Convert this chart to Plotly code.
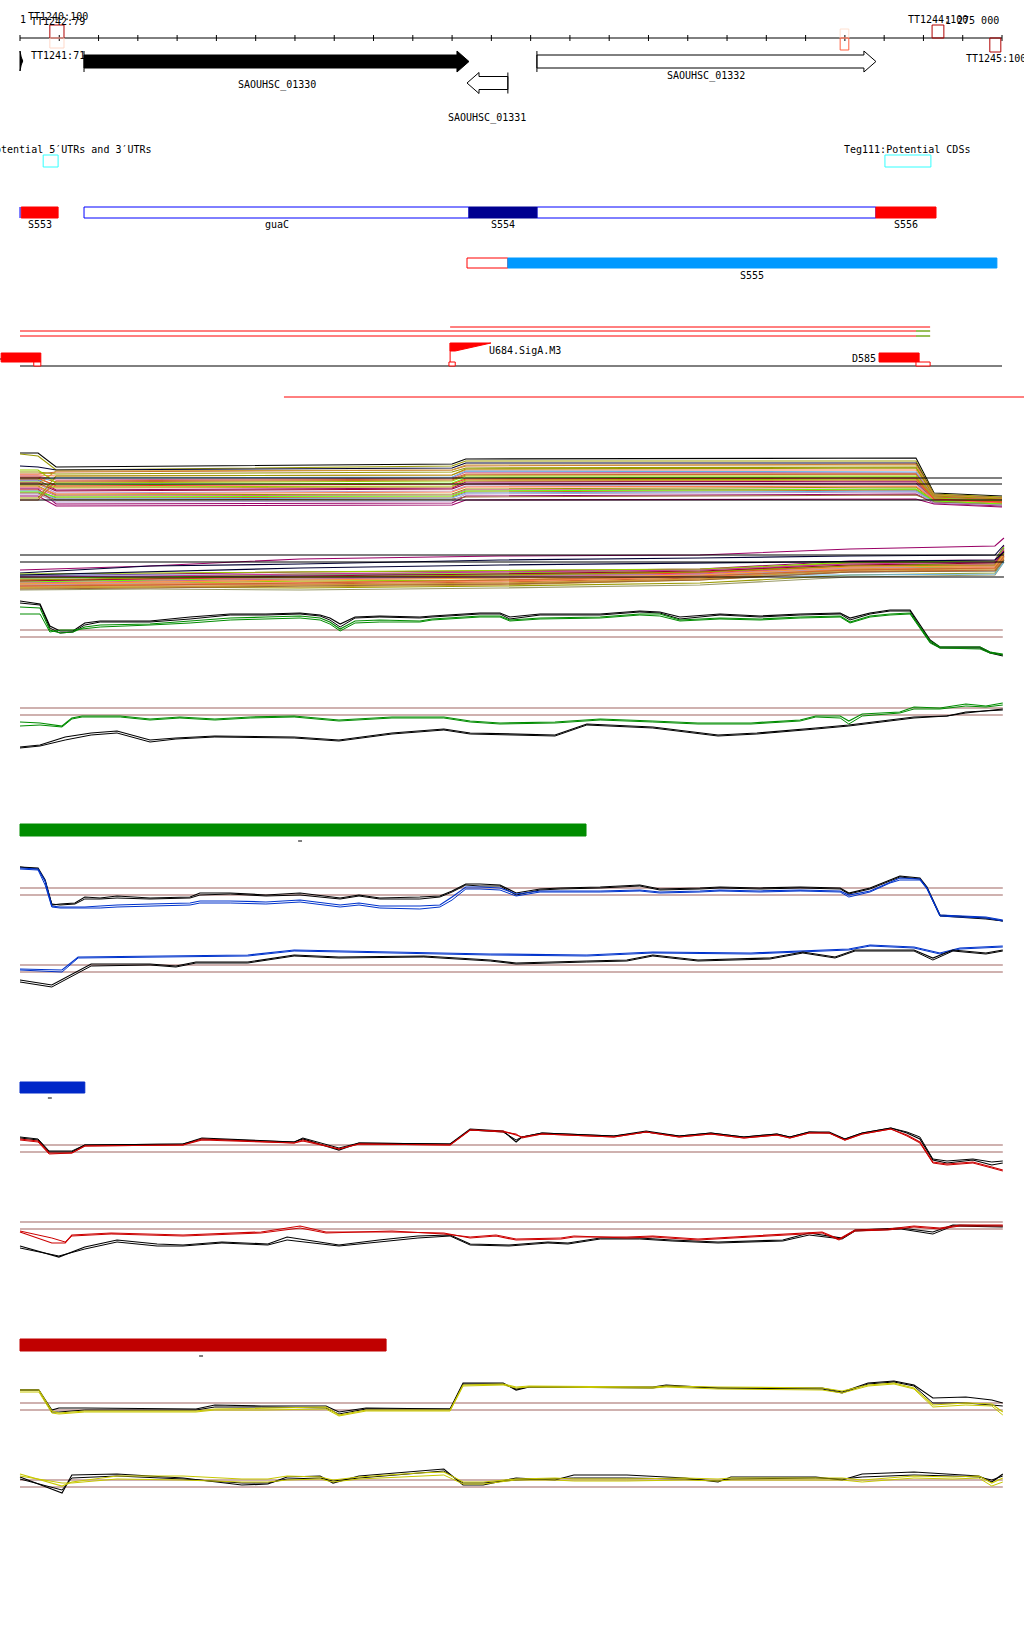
import plotly.graph_objects as go

W, H = 1024, 1640
OFF = 0                # page body margin is removed by the post script

# ======================= DATA =======================
WINDOW_START = 1272500          # genome coordinate of left ruler end
WINDOW_END = 1275000            # genome coordinate of right ruler end
RULER_STEP = 100
ruler_labels = ["1", "1 275 000"]

# terminator boxes (offsets from WINDOW_START)
term_box_start = [76, 76, 2088, 2088, 2322, 2469]
term_box_end = [112, 112, 2110, 2110, 2352, 2497]
term_labels = ["TT1240:100", "TT1242:79", "TT1241:71", "TT1244:100", "TT1245:100"]

# genes
gene_names = ["SAOUHSC_01330", "SAOUHSC_01331", "SAOUHSC_01332"]
gene_start = [163, 1138, 1316]
gene_end = [1143, 1242, 2179]
gene_strand = [1, -1, 1]

# potential UTR / CDS boxes
utr_box = [59, 97]
cds_box = [2202, 2319]

# transcript segments (track 1)
seg_names = ["S553", "guaC", "", "S554", "S556"]
seg_start = [3, 163, 1316, 1143, 2179]
seg_end = [97, 1143, 2179, 1316, 2332]
# track 2
s555_outline = [1138, 1242]
s555_fill = [1242, 2487]

# promoter / region lines (section 3)
region_line_start = [1095, 0, 0]
region_line_end = [2317, 2317, 2317]
green_tail_start = 2281
region_far_line = [672, 2556]
boxU = [-48, 53]
boxD = [2187, 2289]
boxD_small = [2281, 2317]
flag_pos = 1095
flag_len = 104

# colour bars (length in bp)
bar_lengths = [1441, 165, 932]
bar_marks = [713, 76, 461]

# ---- signal panels ----
A_pos = [0, 46, 92, 1100, 1135, 2281, 2327, 2500]
A_lines = [
    [57, 57, 43, 46, 51, 52, 17, 14], [56, 54, 40, 44, 49, 49, 16, 13],
    [44, 43, 40, 42, 47, 47, 15, 12], [36, 36, 38, 40, 44, 46, 15, 12],
    [38, 38, 36, 38, 42, 43, 14, 11], [35, 35, 34, 35, 40, 40, 13, 11],
    [34, 34, 30, 32, 38, 37, 13, 10], [33, 33, 28, 30, 35, 36, 12, 10],
    [31, 31, 25, 27, 32, 33, 12, 9], [30, 30, 20, 22, 28, 29, 11, 9],
    [29, 29, 32, 33, 39, 38, 12, 10], [28, 28, 23, 24, 30, 31, 11, 8],
    [27, 27, 19, 21, 26, 27, 10, 8], [26, 26, 17, 19, 24, 26, 10, 7],
    [25, 25, 22, 23, 29, 30, 11, 8], [24, 24, 15, 16, 21, 23, 9, 7],
    [23, 23, 16, 18, 23, 24, 10, 7], [22, 22, 14, 15, 20, 21, 9, 6],
    [21, 21, 6, 7, 14, 16, 7, 4], [20, 20, 12, 13, 18, 20, 8, 6],
    [19, 19, 11, 12, 17, 19, 8, 5], [18, 18, 13, 14, 19, 21, 9, 6],
    [17, 17, 10, 11, 13, 15, 8, 5], [16, 16, 8, 9, 16, 18, 7, 5],
    [14, 14, 4, 5, 10, 11, 6, 3], [12, 12, 34, 35, 41, 42, 14, 11],
    [10, 10, 29, 31, 36, 36, 13, 10], [40, 40, 27, 29, 34, 34, 12, 9],
    [32, 32, 24, 26, 31, 32, 11, 8], [26, 26, 39, 40, 45, 45, 15, 12],
]
A_const = [32, 26, 10]

B_pos = [0, 331, 713, 1222, 1731, 2113, 2482, 2505]
B_lines = [
    [25, 29, 36, 39, 40, 46, 49, 57], [22, 29, 31, 35, 37, 39, 40, 50],
    [7, 8, 7, 9, 12, 20, 22, 35], [10, 11, 11, 13, 17, 25, 27, 39],
    [12, 13, 13, 15, 19, 27, 28, 40], [14, 15, 16, 17, 21, 29, 30, 43],
    [18, 18, 19, 20, 21, 23, 24, 35], [13, 15, 17, 19, 23, 30, 31, 45],
    [11, 12, 14, 15, 18, 26, 29, 41], [17, 18, 20, 21, 23, 32, 33, 47],
    [16, 16, 17, 18, 20, 27, 29, 39], [8, 9, 8, 10, 15, 24, 25, 37],
    [19, 21, 23, 24, 26, 34, 35, 49], [9, 10, 10, 11, 16, 23, 25, 36],
    [5, 6, 5, 7, 10, 18, 20, 33], [15, 16, 18, 19, 22, 29, 30, 44],
    [20, 20, 20, 20, 20, 20, 21, 33], [6, 7, 9, 11, 15, 23, 24, 35],
    [12, 14, 16, 18, 21, 28, 31, 42], [9, 11, 12, 14, 18, 26, 27, 38],
    [17, 18, 21, 22, 25, 33, 34, 48], [21, 22, 23, 24, 26, 32, 33, 45],
    [10, 12, 15, 17, 20, 28, 29, 40], [14, 16, 19, 21, 24, 30, 32, 44],
    [7, 8, 10, 12, 16, 25, 26, 38], [15, 17, 18, 20, 23, 29, 30, 42],
    [11, 13, 15, 17, 20, 28, 29, 41], [18, 19, 21, 23, 25, 31, 33, 46],
    [20, 23, 27, 30, 32, 34, 35, 43], [9, 10, 12, 15, 19, 25, 27, 39],
]
B_const = [40, 33, 18]

# Panel C (green 1)
C_pos = [0, 51, 76, 102, 135, 165, 204, 331, 433, 535, 626, 713, 764, 789, 815, 853, 916, 1018,
         1049, 1120, 1171, 1222, 1247, 1324, 1477, 1578, 1629, 1680, 1782, 1884, 1986, 2088, 2113,
         2164, 2215, 2266, 2291, 2317, 2342, 2444, 2469, 2502]
C_black1 = [59, 56, 34, 29, 29, 37, 39, 39, 43, 46, 46, 47, 45, 42, 36, 43, 44, 43, 44, 46, 47, 47,
            43, 46, 46, 49, 48, 43, 46, 44, 46, 47, 42, 47, 50, 50, 35, 20, 13, 13, 8, 5]
C_black2 = [57, 55, 32, 27, 28, 35, 38, 38, 41, 45, 45, 46, 44, 40, 33, 42, 43, 42, 43, 45, 46, 46,
            41, 45, 45, 48, 47, 41, 45, 43, 45, 46, 40, 46, 49, 49, 33, 18, 12, 12, 7, 4]
C_green1 = [53, 52, 30, 27, 28, 33, 35, 36, 39, 42, 43, 44, 42, 38, 31, 39, 40, 39, 41, 43, 44, 44,
            40, 42, 43, 46, 46, 40, 42, 41, 43, 44, 38, 44, 46, 47, 33, 19, 13, 13, 8, 6]
C_green2 = [46, 46, 28, 30, 30, 31, 33, 35, 37, 40, 41, 42, 40, 36, 29, 37, 38, 38, 40, 42, 43, 43,
            39, 41, 42, 45, 44, 39, 41, 40, 42, 43, 37, 43, 45, 46, 32, 17, 12, 11, 7, 5]
C_thr = [30, 23]

# Panel D (green 2)
D_gpos = [0, 51, 107, 132, 158, 255, 331, 407, 496, 586, 698, 764, 812, 947, 1079, 1146, 1222,
          1362, 1477, 1611, 1726, 1861, 1986, 2026, 2088, 2110, 2144, 2240, 2276, 2342, 2408, 2459, 2502]
D_green1 = [38, 37, 34, 42, 44, 44, 41, 43, 41, 43, 44, 42, 40, 43, 43, 39, 37, 38, 41, 39, 37, 37,
            40, 44, 44, 39, 46, 48, 53, 52, 56, 54, 57]
D_green2 = [34, 35, 33, 41, 43, 43, 40, 42, 40, 42, 43, 41, 39, 42, 42, 38, 36, 37, 40, 38, 36, 36,
            39, 43, 42, 36, 44, 47, 51, 51, 54, 53, 55]
D_kpos = [0, 51, 115, 181, 247, 331, 397, 496, 698, 812, 947, 1079, 1146, 1362, 1443, 1611, 1777,
          1876, 2026, 2110, 2276, 2360, 2408, 2502]
D_black1 = [13, 15, 23, 27, 29, 20, 22, 24, 23, 20, 27, 31, 27, 25, 36, 33, 25, 27, 32, 35, 43, 44, 48, 50]
D_black2 = [12, 14, 20, 25, 27, 18, 21, 23, 22, 19, 26, 30, 26, 24, 35, 32, 24, 26, 31, 34, 42, 44, 47, 51]
D_thr = [52, 45]

# Panel E (blue 1)
E_pos = [0, 46, 64, 81, 102, 140, 165, 204, 247, 331, 433, 458, 535, 626, 713, 815, 863, 916, 1018,
         1069, 1100, 1135, 1171, 1222, 1263, 1324, 1375, 1477, 1578, 1629, 1731, 1782, 1884, 1986,
         2088, 2110, 2164, 2215, 2240, 2291, 2309, 2342, 2393, 2459, 2502]
E_black1 = [58, 57, 45, 20, 21, 22, 28, 27, 29, 27, 28, 32, 32, 30, 32, 27, 30, 27, 28, 29, 34, 41,
            41, 40, 32, 36, 37, 38, 40, 36, 37, 38, 37, 38, 37, 32, 37, 45, 49, 47, 38, 10, 9, 7, 4]
E_black2 = [58, 56, 44, 21, 20, 21, 26, 26, 27, 26, 27, 30, 31, 29, 30, 26, 29, 26, 26, 28, 33, 40,
            39, 39, 30, 35, 36, 37, 39, 35, 36, 37, 36, 37, 36, 31, 36, 44, 48, 46, 37, 9, 8, 6, 4]
E_blue1 = [57, 56, 44, 19, 18, 18, 18, 19, 20, 21, 22, 24, 24, 23, 25, 20, 22, 19, 19, 20, 28, 38,
           38, 37, 31, 34, 34, 34, 35, 33, 34, 35, 34, 35, 34, 30, 34, 43, 47, 46, 37, 10, 9, 8, 5]
E_blue2 = [56, 55, 40, 18, 17, 17, 17, 17, 18, 19, 20, 22, 22, 21, 23, 18, 20, 17, 16, 18, 25, 36,
           36, 35, 29, 33, 33, 33, 34, 32, 33, 34, 33, 34, 33, 28, 33, 42, 45, 45, 36, 9, 8, 7, 4]
E_thr = [37, 30]

# Panel F (blue 2)
F_kpos = [0, 81, 181, 331, 397, 448, 580, 698, 812, 1028, 1197, 1263, 1443, 1545, 1611, 1726, 1909,
          1993, 2075, 2126, 2276, 2324, 2375, 2459, 2502]
F_black1 = [10, 5, 26, 26, 24, 28, 28, 35, 33, 34, 30, 27, 29, 30, 35, 30, 32, 38, 33, 40, 40, 32, 40, 37, 40]
F_black2 = [8, 3, 24, 25, 23, 27, 27, 34, 32, 33, 29, 26, 28, 29, 34, 29, 31, 37, 32, 39, 39, 30, 39, 36, 39]
F_bpos = [0, 107, 148, 331, 580, 698, 947, 1197, 1443, 1611, 1861, 2110, 2164, 2276, 2342, 2393, 2502]
F_blue1 = [21, 20, 33, 34, 35, 40, 38, 36, 35, 38, 37, 41, 45, 43, 37, 42, 44]
F_blue2 = [20, 18, 32, 33, 34, 39, 37, 35, 34, 37, 36, 40, 44, 42, 36, 41, 43]
F_thr = [25, 18]

# Panel G (red 1)
G_pos = [0, 46, 74, 132, 165, 415, 463, 698, 720, 812, 863, 1095, 1146, 1230, 1263, 1278, 1329,
         1443, 1512, 1594, 1678, 1759, 1843, 1927, 1960, 2009, 2060, 2100, 2144, 2217, 2258, 2291,
         2324, 2360, 2426, 2474, 2502]
G_black1 = [37, 35, 23, 23, 30, 31, 37, 33, 36, 25, 32, 31, 46, 44, 33, 38, 42, 40, 39, 44, 39, 42,
            38, 41, 38, 43, 43, 36, 42, 47, 42, 36, 15, 12, 15, 10, 12]
G_black2 = [38, 36, 24, 24, 30, 31, 36, 33, 37, 27, 32, 31, 45, 43, 35, 38, 42, 40, 39, 43, 39, 42,
            38, 41, 38, 43, 42, 36, 42, 47, 43, 38, 16, 14, 16, 13, 14]
G_red1 = [36, 34, 22, 22, 29, 30, 35, 32, 34, 26, 31, 30, 45, 44, 40, 38, 41, 39, 38, 43, 38, 41,
          37, 40, 37, 42, 42, 35, 41, 46, 40, 33, 13, 11, 13, 8, 5]
G_red2 = [35, 33, 21, 22, 29, 30, 36, 32, 35, 26, 31, 30, 45, 43, 41, 37, 41, 39, 38, 43, 38, 41,
          37, 40, 37, 42, 42, 35, 41, 46, 39, 32, 12, 10, 12, 7, 4]
G_thr = [30, 23]

# Panel H (red 2)
H_rpos = [0, 81, 115, 132, 232, 415, 614, 713, 779, 947, 1079, 1146, 1212, 1263, 1377, 1410, 1545,
          1611, 1726, 1861, 1976, 2042, 2085, 2126, 2210, 2276, 2342, 2393, 2502]
H_red1 = [30, 19, 19, 27, 29, 27, 30, 36, 30, 30, 29, 24, 26, 22, 23, 25, 25, 26, 23, 26, 29, 30,
          23, 32, 33, 36, 34, 37, 37]
H_red2 = [31, 24, 20, 26, 28, 26, 29, 34, 29, 31, 28, 25, 27, 23, 24, 26, 24, 25, 22, 25, 28, 29,
          22, 31, 32, 35, 33, 36, 36]
H_kpos = [0, 99, 165, 247, 349, 415, 514, 631, 680, 812, 914, 1013, 1095, 1146, 1245, 1344, 1395,
          1477, 1578, 1660, 1777, 1942, 2009, 2093, 2126, 2243, 2324, 2375, 2502]
H_black1 = [16, 5, 15, 22, 18, 17, 20, 18, 25, 17, 22, 26, 27, 18, 17, 20, 19, 24, 24, 22, 20, 22,
            29, 24, 32, 34, 30, 37, 36]
H_black2 = [14, 6, 13, 20, 16, 16, 19, 17, 22, 16, 20, 24, 26, 17, 16, 19, 18, 23, 23, 21, 19, 21,
            27, 23, 31, 33, 28, 36, 35]
H_thr = [40, 33]

# Panel I (yellow 1)
I_pos = [0, 48, 81, 99, 165, 448, 496, 614, 779, 812, 881, 1095, 1128, 1230, 1263, 1296, 1611,
         1645, 1777, 2042, 2093, 2159, 2225, 2276, 2324, 2408, 2474, 2502]
I_black1 = [30, 30, 10, 12, 12, 11, 15, 14, 14, 8, 12, 11, 37, 37, 30, 33, 33, 35, 32, 32, 28, 37,
            39, 35, 22, 23, 20, 17]
I_black2 = [30, 30, 8, 8, 10, 10, 13, 13, 12, 6, 11, 11, 36, 36, 31, 33, 32, 34, 32, 31, 27, 36,
            38, 34, 17, 17, 15, 14]
I_yellow1 = [30, 30, 9, 7, 9, 9, 11, 12, 13, 5, 10, 10, 35, 36, 33, 34, 33, 34, 33, 32, 29, 35,
             37, 32, 15, 17, 16, 8]
I_yellow2 = [28, 28, 7, 6, 8, 8, 10, 10, 11, 4, 9, 9, 34, 35, 32, 33, 32, 33, 31, 30, 27, 34,
             36, 31, 13, 15, 14, 5]
I_thr = [17, 10]

# Panel J (yellow 2)
J_pos = [0, 107, 132, 247, 415, 565, 631, 680, 764, 797, 863, 1013, 1079, 1128, 1179, 1263, 1362,
         1410, 1545, 1693, 1777, 1810, 2026, 2093, 2144, 2276, 2375, 2441, 2474, 2502]
J_black1 = [23, 7, 25, 26, 22, 15, 16, 23, 24, 17, 24, 29, 31, 15, 15, 22, 20, 25, 25, 22, 18, 23,
            23, 20, 26, 28, 26, 24, 18, 26]
J_black2 = [21, 10, 22, 24, 21, 17, 17, 21, 22, 19, 22, 27, 29, 17, 17, 20, 21, 22, 22, 21, 19, 21,
            22, 21, 23, 25, 24, 23, 20, 24]
J_yellow1 = [26, 14, 18, 24, 24, 21, 21, 24, 23, 20, 23, 27, 28, 18, 18, 21, 22, 21, 21, 22, 21, 22,
             22, 22, 20, 24, 23, 24, 17, 22]
J_yellow2 = [24, 17, 17, 21, 20, 18, 18, 20, 21, 18, 21, 24, 25, 16, 16, 20, 20, 19, 19, 20, 19, 20,
             20, 20, 18, 22, 21, 22, 14, 18]
J_thr = [20, 13]

# ======================= LAYOUT / STYLE =======================
PX0, PX1 = 20, 1002
BPPX = (WINDOW_END - WINDOW_START) / (PX1 - PX0)
X_LEFT = WINDOW_START - (PX0 - OFF) * BPPX
X_RIGHT = X_LEFT + W * BPPX
FONT = "DejaVu Sans Mono"


def gx(off):
    return WINDOW_START + off


fig = go.Figure()
shapes = []
annos = []


def rect(x0, x1, y0, y1, line="black", fill="rgba(0,0,0,0)", lw=1):
    shapes.append(dict(type="rect", xref="x", yref="y", x0=gx(x0), x1=gx(x1), y0=y0, y1=y1,
                       line=dict(color=line, width=lw), fillcolor=fill, layer="above"))


def hline(x0, x1, y, color="black", lw=1):
    shapes.append(dict(type="line", xref="x", yref="y", x0=gx(x0), x1=gx(x1), y0=y, y1=y,
                       line=dict(color=color, width=lw)))


def vline(x, y0, y1, color="black", lw=1):
    shapes.append(dict(type="line", xref="x", yref="y", x0=gx(x), x1=gx(x), y0=y0, y1=y1,
                       line=dict(color=color, width=lw)))


def text(s, off, y, anchor="left", size=10):
    annos.append(dict(text=s, x=gx(off), y=y, xref="x", yref="y", xanchor=anchor, yanchor="middle",
                      showarrow=False, font=dict(family=FONT, size=size, color="black"), borderpad=0))


# ---- ruler ----
hline(0, WINDOW_END - WINDOW_START, 38)
for k in range(0, (WINDOW_END - WINDOW_START) // RULER_STEP + 1):
    vline(k * RULER_STEP, 35, 41)
term_styles = [(25, 38, "#B00000"), (38, 48, "#FFD8C8"), (29, 38, "#FFE0D0"), (38, 50, "#FF6040"),
               (25, 38, "#B00000"), (38, 52, "#B00000")]
for s0, s1, st in zip(term_box_start, term_box_end, term_styles):
    rect(s0, s1, st[0], st[1], line=st[2])
text(ruler_labels[0], -2, 19)
text(term_labels[0], 18, 16)
text(term_labels[1], 25, 21)
text(term_labels[2], 25, 55)
text(term_labels[3], 2258, 19)
text(ruler_labels[1], 2495, 20, anchor="right")
text(term_labels[4], 2406, 58)

# ---- genes ----
gene_y = [61.5, 83, 61.5]
gene_label_y = [85, 118, 76]
gene_fill = ["black", "white", "white"]
for name, s, e, st, yc, ly, fc in zip(gene_names, gene_start, gene_end, gene_strand, gene_y,
                                        gene_label_y, gene_fill):
    hl = 12 * BPPX
    bh, hh = 13 / 2, 21 / 2
    if st > 0:
        xs = [s, e - hl, e - hl, e, e - hl, e - hl, s, s]
        tail = s
    else:
        xs = [e, s + hl, s + hl, s, s + hl, s + hl, e, e]
        tail = e
    ys = [yc - bh, yc - bh, yc - hh, yc, yc + hh, yc + bh, yc + bh, yc - bh]
    fig.add_trace(go.Scatter(x=[gx(v) for v in xs], y=ys, mode="lines", fill="toself",
                             fillcolor=fc, line=dict(color="black", width=1), hoverinfo="skip"))
    vline(tail, yc - hh, yc + hh)
    text(name, (s + e) / 2, ly, anchor="center")
# clipped gene end at left
fig.add_trace(go.Scatter(x=[gx(0), gx(3), gx(7), gx(3), gx(0), gx(0)], y=[51, 57, 61, 65, 71, 51],
                         mode="lines", fill="toself", fillcolor="black",
                         line=dict(color="black", width=1), hoverinfo="skip"))

# ---- potential UTRs / CDSs ----
text("Potential 5\u2032UTRs and 3\u2032UTRs", 339, 149, anchor="right")
rect(utr_box[0], utr_box[1], 155, 167, line="#33FFFF")
text("Teg111:Potential CDSs", 2095, 149)
rect(cds_box[0], cds_box[1], 155, 167, line="#33FFFF")

# ---- transcript segments ----
seg_style = [("#FF0000", "#FF0000"), ("#0000FF", "white"), ("#0000FF", "white"),
             ("#000090", "#000090"), ("#FF0000", "#FF0000")]
for nm, s, e, (lc, fc) in zip(seg_names, seg_start, seg_end, seg_style):
    rect(s, e, 207, 218, line=lc, fill=fc)
    if nm:
        text(nm, (s + e) / 2, 224, anchor="center")
vline(0, 207, 218, color="#0000FF")
rect(s555_outline[0], s555_outline[1], 258, 268, line="#FF0000", fill="white")
rect(s555_fill[0], s555_fill[1], 258, 268, line="#0099FF", fill="#0099FF")
text("S555", (s555_fill[0] + s555_fill[1]) / 2, 275, anchor="center")

# ---- section 3 ----
for s, e, y in zip(region_line_start, region_line_end, [327, 331, 336]):
    hline(s, e, y, color="#FF0000")
hline(green_tail_start, region_line_end[1], 331, color="#33FF33")
hline(green_tail_start, region_line_end[2], 336, color="#33FF33")
hline(0, WINDOW_END - WINDOW_START, 366, color="black")
hline(-51, -44, 359, color="black")
rect(boxU[0], boxU[1], 353, 362, line="#FF0000", fill="#FF0000")
rect(boxU[1] - 18, boxU[1], 362, 366, line="#FF0000", fill="white")
rect(boxD[0], boxD[1], 353, 362, line="#FF0000", fill="#FF0000")
rect(boxD_small[0], boxD_small[1], 362, 366, line="#FF0000", fill="white")
text("D585", boxD[0] - 5, 358, anchor="right")
fig.add_trace(go.Scatter(x=[gx(flag_pos), gx(flag_pos + flag_len), gx(flag_pos + 13), gx(flag_pos),
                            gx(flag_pos)], y=[343, 343, 351, 351, 343], mode="lines", fill="toself",
                         fillcolor="#FF0000", line=dict(color="#FF0000", width=1), hoverinfo="skip"))
vline(flag_pos, 343, 362, color="#FF0000")
rect(flag_pos - 3, flag_pos + 13, 362, 366, line="#FF0000", fill="white")
text("U684.SigA.M3", flag_pos + 96, 350)
hline(region_far_line[0], region_far_line[1], 397, color="#FF0000")

# ---- colour bars ----
bar_colors = ["#008C00", "#0028C8", "#C00000"]
bar_y = [(824, 836), (1082, 1093), (1339, 1351)]
mark_y = [841, 1098, 1356]
for L, m, c, (y0, y1), my in zip(bar_lengths, bar_marks, bar_colors, bar_y, mark_y):
    rect(0, L, y0, y1, line=c, fill=c)
    hline(m - 5, m + 5, my, color="black")

# ---- signal panels ----
panels = [(448, 510), (530, 595), (590, 660), (695, 760), (860, 925), (935, 990),
          (1120, 1175), (1212, 1262), (1375, 1420), (1460, 1500)]
axes = {}
for i, (top, bot) in enumerate(panels):
    name = "yaxis%d" % (i + 2)
    axes[name] = dict(domain=[1 - (bot - OFF) / H, 1 - (top - OFF) / H], range=[0, bot - top],
                      visible=False, anchor="x", fixedrange=True)


def sig(pos, vals, panel, color, lw=1.0):
    fig.add_trace(go.Scatter(x=[gx(p) for p in pos], y=vals, mode="lines", yaxis="y%d" % (panel + 2),
                             line=dict(color=color, width=lw), hoverinfo="skip"))


FULL = [0, 2502]
BROWN = "#A06460"

A_colors = ["#000000", "#999900", "#000033", "#CC6633", "#999900", "#FF7F50", "#CC6699", "#CC6633",
            "#66FF00", "#990066", "#66B3E6", "#99CC00", "#990033", "#B399CC", "#CC9933", "#999900",
            "#FF7F50", "#CC6699", "#990066", "#CC6633", "#66B3E6", "#66FF00", "#996633", "#B399CC",
            "#990066", "#999900", "#CC6633", "#99CC00", "#FF3333", "#CC9933"]
B_colors = ["#990066", "#000033", "#999900", "#CC6633", "#FF7F50", "#CC6699", "#66B3E6", "#66FF00",
            "#99CC00", "#990033", "#B399CC", "#CC9933", "#990066", "#CC6633", "#999966", "#FF3333",
            "#66B3E6", "#996633", "#CC6699", "#FF7F50", "#66FF00", "#99CC00", "#B399CC", "#990033",
            "#CC9933", "#999900", "#FF9933", "#CC3399", "#000033", "#CC6633"]
for vals, c in zip(A_lines, A_colors):
    sig(A_pos, vals, 0, c, 1.1)
for v in A_const:
    sig([0, 2500], [v, v], 0, "black", 1.1)
for vals, c in zip(B_lines, B_colors):
    sig(B_pos, vals, 1, c, 1.1)
for v in B_const:
    sig([0, 2505], [v, v], 1, "black", 1.1)

for thr, pnl in [(C_thr, 2), (D_thr, 3), (E_thr, 4), (F_thr, 5), (G_thr, 6), (H_thr, 7),
                 (I_thr, 8), (J_thr, 9)]:
    for v in thr:
        sig(FULL, [v, v], pnl, BROWN, 1.1)

sig(C_pos, C_black1, 2, "black", 1.2)
sig(C_pos, C_black2, 2, "black", 1)
sig(C_pos, C_green1, 2, "#008C00", 1.2)
sig(C_pos, C_green2, 2, "#008C00", 1)

sig(D_gpos, D_green1, 3, "#008C00", 1.2)
sig(D_gpos, D_green2, 3, "#008C00", 1)
sig(D_kpos, D_black1, 3, "black", 1.2)
sig(D_kpos, D_black2, 3, "black", 1)

sig(E_pos, E_black1, 4, "black", 1.2)
sig(E_pos, E_black2, 4, "black", 1)
sig(E_pos, E_blue1, 4, "#0033CC", 1.2)
sig(E_pos, E_blue2, 4, "#0033CC", 1)

sig(F_bpos, F_blue1, 5, "#0033CC", 1.2)
sig(F_bpos, F_blue2, 5, "#0033CC", 1)
sig(F_kpos, F_black1, 5, "black", 1.2)
sig(F_kpos, F_black2, 5, "black", 1)

sig(G_pos, G_black1, 6, "black", 1.2)
sig(G_pos, G_black2, 6, "black", 1)
sig(G_pos, G_red1, 6, "#CC0000", 1.2)
sig(G_pos, G_red2, 6, "#CC0000", 1)

sig(H_kpos, H_black1, 7, "black", 1.2)
sig(H_kpos, H_black2, 7, "black", 1)
sig(H_rpos, H_red1, 7, "#CC0000", 1.2)
sig(H_rpos, H_red2, 7, "#CC0000", 1)

sig(I_pos, I_black1, 8, "black", 1.2)
sig(I_pos, I_black2, 8, "black", 1)
sig(I_pos, I_yellow1, 8, "#C8C800", 1.2)
sig(I_pos, I_yellow2, 8, "#C8C800", 1)

sig(J_pos, J_black1, 9, "black", 1.2)
sig(J_pos, J_black2, 9, "black", 1)
sig(J_pos, J_yellow1, 9, "#C8C800", 1.2)
sig(J_pos, J_yellow2, 9, "#C8C800", 1)

fig.update_layout(
    width=W, height=H, margin=dict(l=0, r=0, t=0, b=0),
    paper_bgcolor="white", plot_bgcolor="rgba(0,0,0,0)", showlegend=False,
    xaxis=dict(range=[X_LEFT, X_RIGHT], visible=False, fixedrange=True),
    yaxis=dict(range=[H + OFF, OFF], domain=[0, 1], visible=False, fixedrange=True),
    shapes=shapes, annotations=annos, hovermode=False,
    **axes,
)
fig.write_html("out.html", config={"displayModeBar": False},
               post_script="document.body.style.margin='0';document.body.style.overflow='hidden';")
